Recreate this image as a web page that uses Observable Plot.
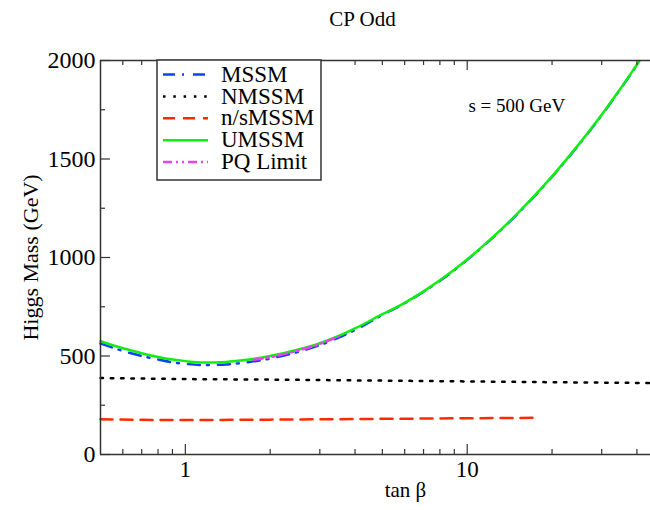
<!DOCTYPE html>
<html>
<head>
<meta charset="utf-8">
<script src="https://cdn.jsdelivr.net/npm/d3@7"></script>
<script src="https://cdn.jsdelivr.net/npm/@observablehq/plot@0.6"></script>
<style>
  body { margin: 0; background: #fff; }
</style>
</head>
<body>
<div id="chart"></div>
<script>
// CP-odd Higgs mass versus tan(beta), s = 500 GeV
const umssmTan  = [0.5, 0.6, 0.7, 0.8, 0.9, 1.0, 1.16, 1.4, 1.6, 2.0, 2.5, 3.0, 3.5, 4.0, 5.0, 6.0, 7.0, 8.0, 10, 12, 15, 20, 25, 30, 35, 40.8];
const umssmMass = [575, 539, 514, 495, 482, 474, 467, 470, 478, 500, 532, 565, 602, 640, 712, 770, 828, 884, 990, 1088, 1220, 1412, 1578, 1725, 1858, 1997];

const mssmTan  = [0.5, 0.6, 0.7, 0.8, 0.9, 1.0, 1.16, 1.4, 1.6, 2.0, 2.5, 3.0, 3.5, 4.0, 5.0, 6.0, 7.0, 8.0, 10, 12, 15, 20, 25, 30, 35, 40.8];
const mssmMass = [563, 526, 500, 482, 468, 460, 454, 457, 465, 487, 520, 555, 594, 632, 709, 768, 826, 882, 988, 1086, 1218, 1410, 1576, 1723, 1856, 1995];

const nmssmTan  = [0.5, 1, 2, 5, 10, 20, 44.7];
const nmssmMass = [388, 383, 380, 375, 371, 367, 363];

const nsmssmTan  = [0.5, 0.7, 1, 2, 5, 10, 17.1];
const nsmssmMass = [179, 176, 175, 177, 181, 184, 186];

const pqTan  = [1.75, 2.0, 2.5, 3.0, 3.5];
const pqMass = [481, 494, 527, 561, 599];

const seriesNames = ["MSSM", "NMSSM", "n/sMSSM", "UMSSM", "PQ Limit"];
const seriesColors = ["#1040ff", "#000000", "#ff2a00", "#10ee10", "#ee40ee"];
const seriesDash = ["12,7,2,9", "2.5,7.8", "12,8", null, "9,4,2,4,2,4"];
const seriesWidth = [2.5, 2.5, 2.5, 2.5, 2.5];

const xMajor = [1, 10];
const xMinor = [0.6, 0.7, 0.8, 0.9, 2, 3, 4, 5, 6, 7, 8, 9, 20, 30, 40];
const yMajor = [0, 500, 1000, 1500, 2000];
const yMinor = [250, 750, 1250, 1750];

const W = 650, H = 510;
const mL = 100, mR = 0, mT = 60, mB = 56;
const frameW = W - mL - mR, frameH = H - mT - mB;
const axisColor = "#333";
const serif = "'Liberation Serif', 'DejaVu Serif', serif";

const toRows = (t, m) => t.map((d, i) => ({t: d, m: m[i]}));
const curves = [
  toRows(mssmTan, mssmMass),
  toRows(nmssmTan, nmssmMass),
  toRows(nsmssmTan, nsmssmMass),
  toRows(umssmTan, umssmMass),
  toRows(pqTan, pqMass)
];

// drawing order: flat curves, MSSM, UMSSM on top, PQ limit last
const order = [1, 2, 0, 3, 4];
const lineMarks = order.map(i => Plot.line(curves[i], {
  x: "t", y: "m",
  curve: "monotone-x",
  stroke: seriesColors[i],
  strokeWidth: seriesWidth[i],
  strokeDasharray: seriesDash[i]
}));

const chart = Plot.plot({
  width: W, height: H,
  marginLeft: mL, marginRight: mR, marginTop: mT, marginBottom: mB,
  style: {fontFamily: serif, fontSize: "20px", color: "#000", background: "#fff"},
  x: {type: "log", domain: [0.5, 44.7]},
  y: {domain: [0, 2000]},
  marks: [
    ...lineMarks,
    // frame: left, bottom, top
    Plot.ruleX([0.5], {stroke: axisColor, strokeWidth: 1.5}),
    Plot.ruleY([0], {stroke: axisColor, strokeWidth: 1.5}),
    Plot.ruleY([2000], {stroke: axisColor, strokeWidth: 1.5}),
    // inward ticks, bottom
    Plot.ruleX(xMajor, {x: d => d, insetTop: frameH - 10, stroke: axisColor, strokeWidth: 1.2}),
    Plot.ruleX(xMinor, {x: d => d, insetTop: frameH - 5, stroke: axisColor, strokeWidth: 1.2}),
    // inward ticks, top
    Plot.ruleX(xMajor, {x: d => d, insetBottom: frameH - 10, stroke: axisColor, strokeWidth: 1.2}),
    Plot.ruleX(xMinor, {x: d => d, insetBottom: frameH - 5, stroke: axisColor, strokeWidth: 1.2}),
    // inward ticks, left
    Plot.ruleY(yMajor, {y: d => d, insetRight: frameW - 10, stroke: axisColor, strokeWidth: 1.2}),
    Plot.ruleY(yMinor, {y: d => d, insetRight: frameW - 5, stroke: axisColor, strokeWidth: 1.2}),
    Plot.axisX(xMajor, {tickSize: 0, tickPadding: 6, fontSize: 23, tickFormat: d => String(d), label: null}),
    Plot.axisY(yMajor, {tickSize: 0, tickPadding: 5, fontSize: 24, tickFormat: d => String(d), label: null}),
    Plot.text(["tan β"], {frameAnchor: "bottom", dx: 30, dy: 42, fontSize: 21}),
    Plot.text(["Higgs Mass (GeV)"], {frameAnchor: "left", textAnchor: "middle", dx: -70, dy: 0, rotate: -90, fontSize: 22}),
    Plot.text(["CP Odd"], {frameAnchor: "top", dx: -13, dy: -49, fontSize: 21}),
    Plot.text(["s = 500 GeV"], {x: [15], y: [1770], text: d => d, fontSize: 19})
  ]
});

// legend box in the upper left of the frame
const svg = d3.select(chart);
const lg = svg.append("g");
const box = {x: 157, y: 60, w: 164, h: 120};
lg.append("rect")
  .attr("x", box.x).attr("y", box.y).attr("width", box.w).attr("height", box.h)
  .attr("fill", "#fff").attr("stroke", axisColor).attr("stroke-width", 1.5);
seriesNames.forEach((name, i) => {
  const y = 74.5 + i * 21.9;
  lg.append("line")
    .attr("x1", 163).attr("x2", 208).attr("y1", y).attr("y2", y)
    .attr("stroke", seriesColors[i]).attr("stroke-width", seriesWidth[i])
    .attr("stroke-dasharray", seriesDash[i]);
  lg.append("text")
    .attr("x", 221).attr("y", y).attr("dy", "0.31em")
    .style("text-anchor", "start")
    .style("font-size", "23px").style("font-family", serif)
    .text(name);
});

document.getElementById("chart").append(chart);
</script>
</body>
</html>
